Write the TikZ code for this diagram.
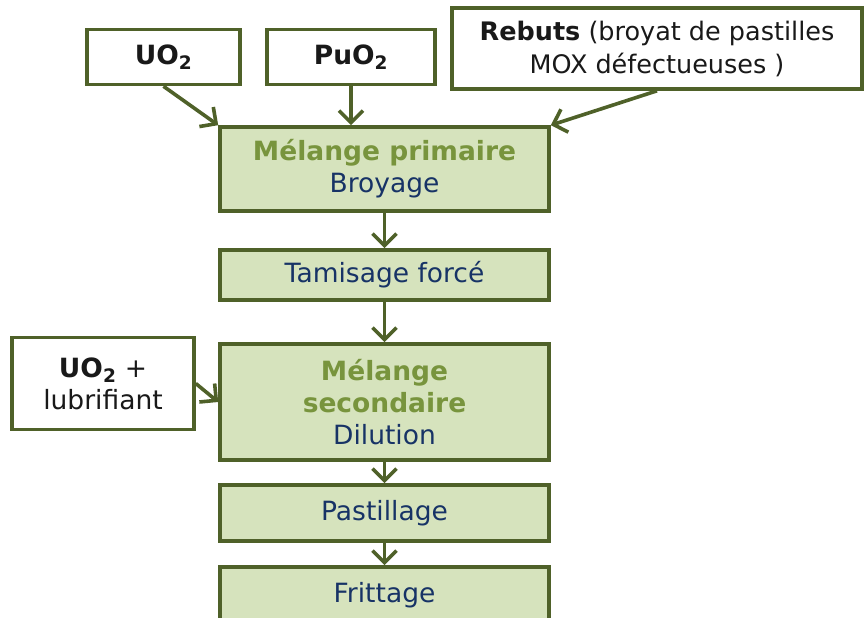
\documentclass[tikz,border=0pt]{standalone}
\usepackage{fontspec}
\setmainfont{DejaVu Sans}
\usetikzlibrary{arrows.meta}
\usetikzlibrary{positioning}
\definecolor{mborder}{rgb}{0.31, 0.38, 0.16}
\definecolor{mfill}{rgb}{0.84, 0.89, 0.74}
\definecolor{mtitle}{rgb}{0.47, 0.58, 0.24}
\definecolor{mblue}{rgb}{0.09, 0.2, 0.40}
\definecolor{mblack}{rgb}{0.1, 0.1, 0.1}
\tikzset{box/.style = {draw=mborder, line width=3.6pt, rectangle, inner sep=0,
                       align=center, font=\fontsize{26.5}{32}\selectfont}}
\tikzset{proc/.style = {box, fill=mfill, text=mblue, minimum width=329pt}}
\tikzset{inp/.style = {box, fill=white, text=mblack}}
\tikzset{flow/.style = {draw=mborder, line width=3.6pt,
                        -{Straight Barb[length=12pt, width=24pt]}}}
\newcommand{\ttl}[1]{{\color{mtitle}\bfseries #1}}

\begin{document}
\begin{tikzpicture}[x=1pt, y=-1pt]
      \useasboundingbox (0, 0) rectangle (865, 618);
      \clip (0, 0) rectangle (865, 618);

      % inputs
      \node [inp, minimum width=153pt, minimum height=55pt] (uo) at (163.5, 57) {\textbf{UO\textsubscript{2}}};
      \node [inp, minimum width=168pt, minimum height=55pt] (puo) at (351, 57) {\textbf{PuO\textsubscript{2}}};
      \node [inp, minimum width=410pt, minimum height=81pt, font=\fontsize{25.5}{33}\selectfont] (reb) at (657, 48.5)
            {\textbf{Rebuts} (broyat de pastilles\\MOX défectueuses )};
      \node [inp, minimum width=182pt, minimum height=92pt] (lub) at (103, 383.5)
            {\textbf{UO\textsubscript{2}} +\\lubrifiant};

      % process steps
      \node [proc, minimum height=84pt] (prim) at (384.5, 169) {\ttl{Mélange primaire}\\Broyage};
      \node [proc, minimum height=50pt] (tam) at (384.5, 275) {Tamisage forcé};
      \node [proc, minimum height=116pt] (sec) at (384.5, 402) {\ttl{Mélange}\\\ttl{secondaire}\\Dilution};
      \node [proc, minimum height=56pt] (pas) at (384.5, 513) {Pastillage};
      \node [proc, minimum height=56pt] (fri) at (384.5, 595) {Frittage};

      \draw [flow] (uo.south) -- (prim.north west);
      \draw [flow] (puo.south) -- (puo.south |- prim.north);
      \draw [flow] (reb.south) -- (prim.north east);
      \draw [flow] (lub.east) -- (sec.west);

      \draw [flow] (prim) -- (tam);
      \draw [flow] (tam) -- (sec);
      \draw [flow] (sec) -- (pas);
      \draw [flow] (pas) -- (fri);
\end{tikzpicture}
\end{document}
